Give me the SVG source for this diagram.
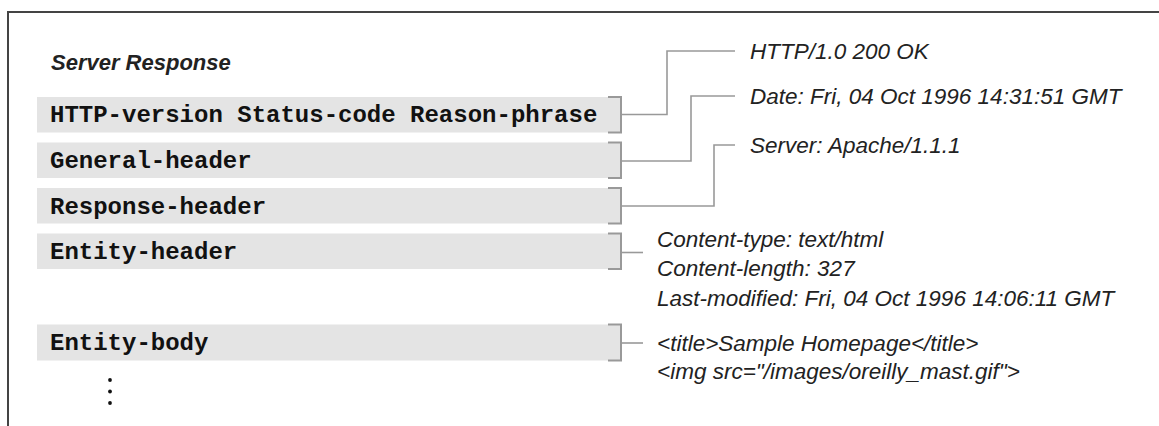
<svg xmlns="http://www.w3.org/2000/svg" width="1159" height="426" viewBox="0 0 1159 426">
<style>
.frame{stroke:#444;stroke-width:2;fill:none}
.bar{fill:#e4e4e4}
.brk{stroke:#999;stroke-width:2;fill:none}
.mono{font-family:"Liberation Mono",monospace;font-weight:bold;font-size:24px;fill:#111}
.lbl{font-family:"Liberation Sans",Arial,sans-serif;font-style:italic;font-size:22.5px;fill:#222}
.title{font-family:"Liberation Sans",Arial,sans-serif;font-style:italic;font-weight:bold;font-size:22px;fill:#222}
.con{stroke:#999;stroke-width:1.6;fill:none}
.dot{fill:#111}
</style>
<rect width="1159" height="426" fill="#fff"/>
<path class="frame" d="M8 426 V12 H1159"/>
<text class="title" x="51" y="70">Server Response</text>
<g id="status-line">
<rect class="bar" x="37" y="97" width="584" height="35.5"/>
<path class="brk" d="M608 97 H621 V132.5 H608"/>
<text class="mono" x="50" y="122">HTTP-version Status-code Reason-phrase</text>
</g>
<g id="general-header">
<rect class="bar" x="37" y="142.5" width="584" height="35.5"/>
<path class="brk" d="M608 142.5 H621 V178 H608"/>
<text class="mono" x="50" y="168">General-header</text>
</g>
<g id="response-header">
<rect class="bar" x="37" y="188" width="584" height="35.5"/>
<path class="brk" d="M608 188 H621 V223.5 H608"/>
<text class="mono" x="50" y="213.5">Response-header</text>
</g>
<g id="entity-header">
<rect class="bar" x="37" y="233.5" width="584" height="35.5"/>
<path class="brk" d="M608 233.5 H621 V269 H608"/>
<text class="mono" x="50" y="259">Entity-header</text>
</g>
<g id="entity-body">
<rect class="bar" x="37" y="324.5" width="584" height="36"/>
<path class="brk" d="M608 324.5 H621 V360.5 H608"/>
<text class="mono" x="50" y="350">Entity-body</text>
<circle class="dot" cx="110" cy="380" r="1.9"/>
<circle class="dot" cx="110" cy="391.5" r="1.9"/>
<circle class="dot" cx="110" cy="403" r="1.9"/>
</g>
<g id="connectors">
<path class="con" d="M621 114.5 H667 V51 H735"/>
<path class="con" d="M621 161 H691 V96 H735"/>
<path class="con" d="M621 206 H714 V145 H735"/>
<path class="con" d="M621 252.5 H643"/>
<path class="con" d="M621 343 H643"/>
</g>
<g id="status-example">
<text class="lbl" x="750" y="59">HTTP/1.0 200 OK</text>
</g>
<g id="general-example">
<text class="lbl" x="750" y="104">Date: Fri, 04 Oct 1996 14:31:51 GMT</text>
</g>
<g id="response-example">
<text class="lbl" x="750" y="153">Server: Apache/1.1.1</text>
</g>
<g id="entity-header-example">
<text class="lbl" x="657" y="247">Content-type: text/html</text>
<text class="lbl" x="657" y="276">Content-length: 327</text>
<text class="lbl" x="657" y="306">Last-modified: Fri, 04 Oct 1996 14:06:11 GMT</text>
</g>
<g id="entity-body-example">
<text class="lbl" x="657" y="351">&lt;title&gt;Sample Homepage&lt;/title&gt;</text>
<text class="lbl" x="657" y="379">&lt;img src="/images/oreilly_mast.gif"&gt;</text>
</g>
</svg>
